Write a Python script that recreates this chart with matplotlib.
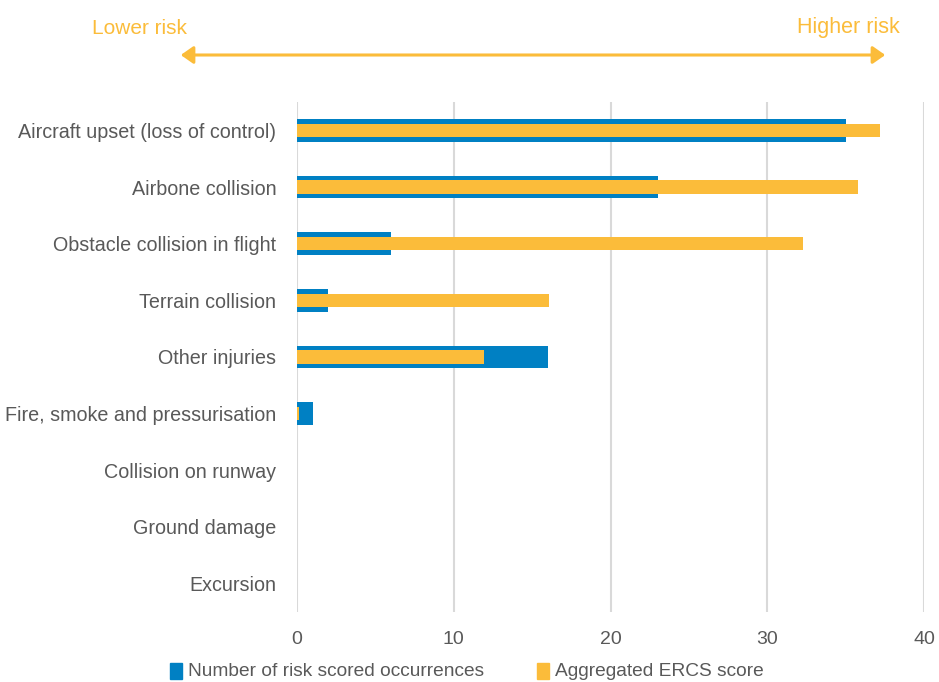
import matplotlib
matplotlib.use("Agg")
import matplotlib.pyplot as plt
from matplotlib.patches import Rectangle
from matplotlib import font_manager

categories = ["Aircraft upset (loss of control)", "Airbone collision",
              "Obstacle collision in flight", "Terrain collision", "Other injuries",
              "Fire, smoke and pressurisation", "Collision on runway",
              "Ground damage", "Excursion"]
occurrences = [35, 23, 6, 2, 16, 1, 0, 0, 0]
ercs_score = [37.2, 35.8, 32.3, 16.1, 11.9, 0.1, 0, 0, 0]
xticks = [0, 10, 20, 30, 40]
series_names = ["Number of risk scored occurrences", "Aggregated ERCS score"]

BLUE = "#0080C3"
GOLD = "#FBBC3A"
TXT = "#595959"

names = {f.name for f in font_manager.fontManager.ttflist}
fam = "Liberation Sans Narrow" if "Liberation Sans Narrow" in names else "Liberation Sans"
plt.rcParams["font.family"] = [fam, "DejaVu Sans"]

fig = plt.figure(figsize=(9.39, 6.82), dpi=100)
ax = fig.add_axes([297/939, 1-612/682, (924-297)/939, (612-102)/682])

y = list(range(len(categories)))
ax.barh(y, occurrences, height=0.40, color=BLUE, zorder=2)
ax.barh(y, ercs_score, height=0.23, color=GOLD, zorder=3)

ax.set_xlim(0, 40)
ax.set_ylim(len(categories)-0.5, -0.5)
ax.set_xticks(xticks)
ax.set_xticklabels([str(t) for t in xticks], fontsize=14, color=TXT)
ax.set_yticks(y)
ax.set_yticklabels(categories, fontsize=14.2, color=TXT)
ax.tick_params(axis="both", length=0)
ax.tick_params(axis="x", pad=14)
ax.tick_params(axis="y", pad=15)
for s in ax.spines.values():
    s.set_visible(False)
ax.grid(axis="x", color="#D9D9D9", linewidth=1.5, zorder=0)
ax.set_axisbelow(True)

# risk arrow and labels
fig.patches.append(matplotlib.patches.FancyArrowPatch(
    (178/939, 1-55/682), (888/939, 1-55/682), transform=fig.transFigure,
    arrowstyle="<|-|>,head_length=5,head_width=3.5", color=GOLD, linewidth=2.2,
    mutation_scale=1.5))
fig.text(92/939, 1-28/682, "Lower risk", color=GOLD, fontsize=15, va="center", ha="left")
fig.text(900/939, 1-28/682, "Higher risk", color=GOLD, fontsize=15.5, va="center", ha="right")

# legend
ly = 1-671/682
for xs, col, name in [(170, BLUE, series_names[0]), (537, GOLD, series_names[1])]:
    fig.patches.append(Rectangle((xs/939, ly-8/682), 12/939, 16/682,
                                 transform=fig.transFigure, color=col))
    fig.text((xs+18)/939, ly, name, color=TXT, fontsize=13.8, va="center", ha="left")

fig.savefig("out.png", dpi=100)
